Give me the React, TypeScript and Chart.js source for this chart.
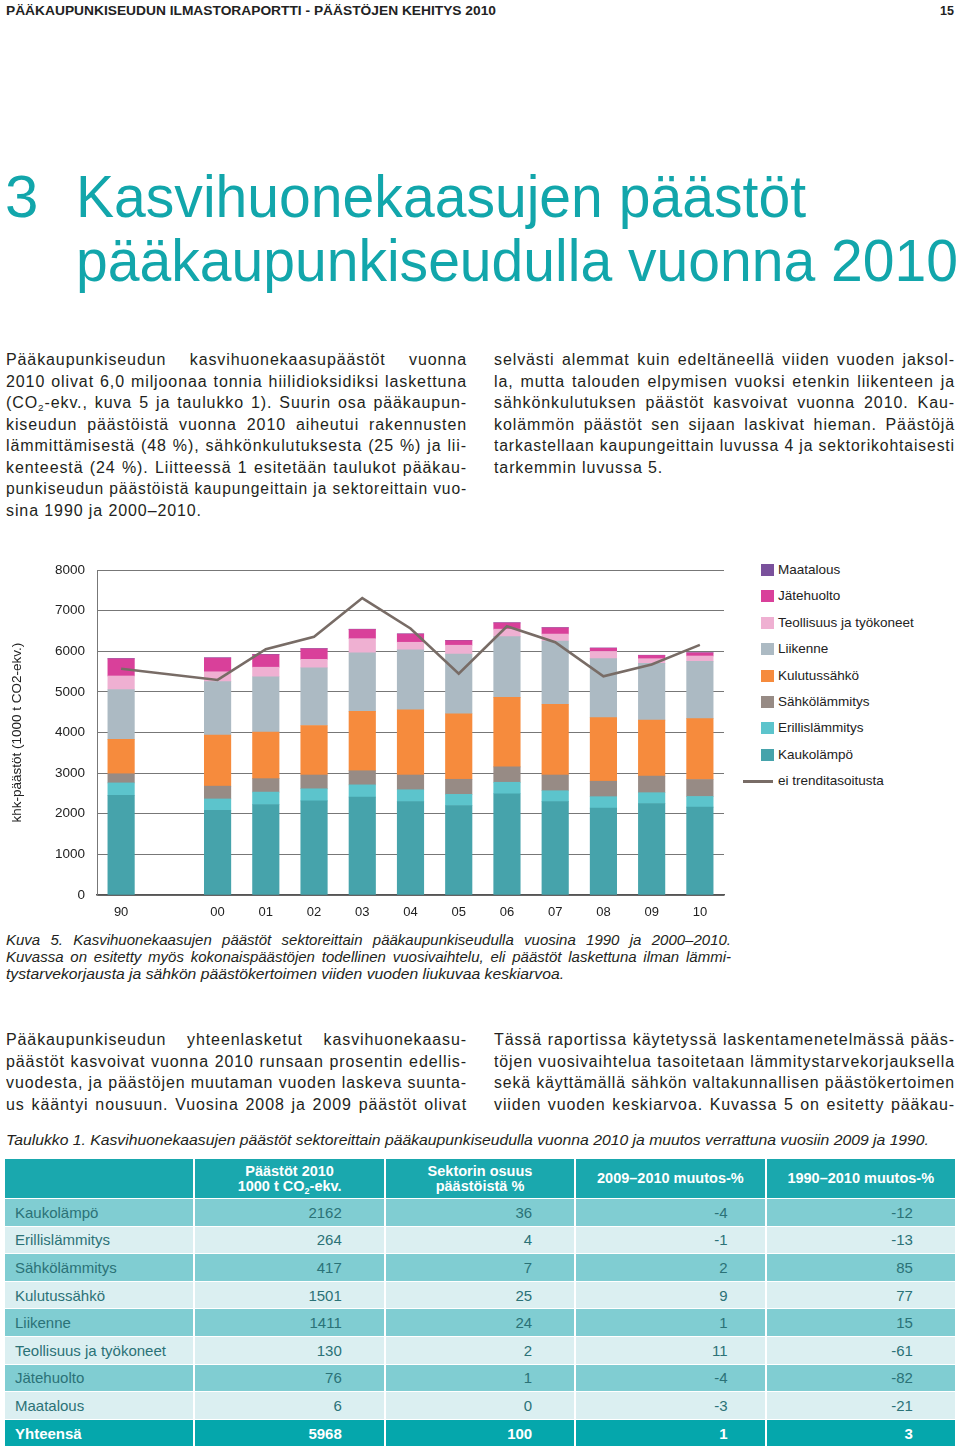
import React, { useEffect, useLayoutEffect, useRef, useState } from 'react';
import { Chart, registerables } from 'chart.js';

Chart.register(...registerables);

// ---------- chart data ----------
const categories = ['90', '', '00', '01', '02', '03', '04', '05', '06', '07', '08', '09', '10'];
const kaukolampo = [2457, null, 2082, 2228, 2316, 2413, 2300, 2203, 2494, 2300, 2139, 2252, 2162];
const erillislammitys = [303, null, 283, 306, 299, 299, 291, 275, 282, 267, 282, 267, 264];
const sahkolammitys = [225, null, 315, 331, 339, 347, 363, 371, 380, 387, 380, 409, 417];
const kulutussahko = [848, null, 1259, 1146, 1219, 1461, 1606, 1614, 1711, 1743, 1565, 1377, 1501];
const liikenne = [1227, null, 1315, 1364, 1420, 1444, 1477, 1469, 1493, 1558, 1453, 1397, 1411];
const teollisuus = [333, null, 242, 234, 210, 348, 186, 218, 186, 170, 178, 117, 130];
const jatehuolto = [422, null, 339, 307, 258, 226, 202, 113, 153, 153, 80, 79, 76];
const maatalous = [8, null, 8, 8, 8, 7, 7, 7, 7, 7, 6, 6, 6];
const eiTrenditasoitusta = [5569, null, 5295, 6053, 6360, 7312, 6562, 5448, 6618, 6223, 5383, 5674, 6158];

const seriesNames = ['Kaukolämpö', 'Erillislämmitys', 'Sähkölämmitys', 'Kulutussähkö', 'Liikenne', 'Teollisuus ja työkoneet', 'Jätehuolto', 'Maatalous'];
const seriesValues = [kaukolampo, erillislammitys, sahkolammitys, kulutussahko, liikenne, teollisuus, jatehuolto, maatalous];
const seriesColors = ['#46a3ab', '#5cc4cc', '#978b85', '#f68b3d', '#acbac3', '#efb0d2', '#d9409a', '#7a519c'];
const lineName = 'ei trenditasoitusta';
const lineColor = '#786c66';
const yAxisTitle = 'khk-päästöt (1000 t CO2-ekv.)';
const yMin = 0;
const yMax = 8000;
const yStep = 1000;

// ---------- table data ----------
const tableRowNames = ['Kaukolämpö', 'Erillislämmitys', 'Sähkölämmitys', 'Kulutussähkö', 'Liikenne', 'Teollisuus ja työkoneet', 'Jätehuolto', 'Maatalous'];
const tableEmissions2010 = [2162, 264, 417, 1501, 1411, 130, 76, 6];
const tableShare = [36, 4, 7, 25, 24, 2, 1, 0];
const tableChange0910 = [-4, -1, 2, 9, 1, 11, -4, -3];
const tableChange9010 = [-12, -13, 85, 77, 15, -61, -82, -21];
const tableTotal = ['Yhteensä', 5968, 100, 1, 3];

const FONT = "'Liberation Sans', Arial, Helvetica, sans-serif";
const TEAL = '#12a6ab';
const TEXT = '#231f20';

const Sub = () => (
  <span style={{ fontSize: '0.62em', verticalAlign: '-0.3em', lineHeight: 0 }}>2</span>
);

function Line({ children, w, justify = false, fit, style }: any) {
  const ref = useRef<HTMLSpanElement>(null);
  const [mode, setMode] = useState<any>(null);
  useLayoutEffect(() => {
    if (!ref.current) return;
    const nat = ref.current.getBoundingClientRect().width;
    if (fit) setMode({ just: false, scale: fit / nat });
    else if (justify && nat <= w) setMode({ just: true, scale: 1 });
    else if (nat > w) setMode({ just: false, scale: w / nat });
    else setMode({ just: false, scale: 1 });
  }, [w, justify, fit]);
  if (mode && mode.just) {
    return (
      <div style={{ ...style, width: w, textAlign: 'justify', textAlignLast: 'justify', whiteSpace: 'normal' }}>
        {children}
      </div>
    );
  }
  return (
    <div style={{ ...style, width: w, whiteSpace: 'nowrap' }}>
      <span
        ref={ref}
        style={{
          display: 'inline-block',
          transformOrigin: '0 50%',
          transform: mode ? `scaleX(${mode.scale})` : undefined,
        }}
      >
        {children}
      </span>
    </div>
  );
}

function Para({ lines, left, top, w, lh, font }: any) {
  return (
    <div style={{ position: 'absolute', left, top, width: w, ...font, lineHeight: lh + 'px' }}>
      {lines.map((l: any, i: number) => (
        <Line key={i} w={w} justify={!l.last} fit={l.fit} style={{ height: lh }}>
          {l.t}
        </Line>
      ))}
    </div>
  );
}

const paraFont = { fontFamily: FONT, fontSize: 16, letterSpacing: '0.9px', color: TEXT };

const para1Left = [
  { t: 'Pääkaupunkiseudun kasvihuonekaasupäästöt vuonna' },
  { t: '2010 olivat 6,0 miljoonaa tonnia hiilidioksidiksi laskettuna' },
  { t: <>(CO<Sub />-ekv., kuva 5 ja taulukko 1). Suurin osa pääkaupun-</> },
  { t: 'kiseudun päästöistä vuonna 2010 aiheutui rakennusten' },
  { t: 'lämmittämisestä (48\u00a0%), sähkönkulutuksesta (25\u00a0%) ja lii-' },
  { t: 'kenteestä (24\u00a0%). Liitteessä 1 esitetään taulukot pääkau-' },
  { t: 'punkiseudun päästöistä kaupungeittain ja sektoreittain vuo-' },
  { t: 'sina 1990 ja 2000–2010.', last: true },
];
const para1Right = [
  { t: 'selvästi alemmat kuin edeltäneellä viiden vuoden jaksol-' },
  { t: 'la, mutta talouden elpymisen vuoksi etenkin liikenteen ja' },
  { t: 'sähkönkulutuksen päästöt kasvoivat vuonna 2010. Kau-' },
  { t: 'kolämmön päästöt sen sijaan laskivat hieman. Päästöjä' },
  { t: 'tarkastellaan kaupungeittain luvussa 4 ja sektorikohtaisesti' },
  { t: 'tarkemmin luvussa 5.', last: true },
];
const para2Left = [
  { t: 'Pääkaupunkiseudun yhteenlasketut kasvihuonekaasu-' },
  { t: 'päästöt kasvoivat vuonna 2010 runsaan prosentin edellis-' },
  { t: 'vuodesta, ja päästöjen muutaman vuoden laskeva suunta-' },
  { t: 'us kääntyi nousuun. Vuosina 2008 ja 2009 päästöt olivat' },
];
const para2Right = [
  { t: 'Tässä raportissa käytetyssä laskentamenetelmässä pääs-' },
  { t: 'töjen vuosivaihtelua tasoitetaan lämmitystarvekorjauksella' },
  { t: 'sekä käyttämällä sähkön valtakunnallisen päästökertoimen' },
  { t: 'viiden vuoden keskiarvoa. Kuvassa 5 on esitetty pääkau-' },
];
const captionLines = [
  { t: 'Kuva 5. Kasvihuonekaasujen päästöt sektoreittain pääkaupunkiseudulla vuosina 1990 ja 2000–2010.' },
  { t: 'Kuvassa on esitetty myös kokonaispäästöjen todellinen vuosivaihtelu, eli päästöt laskettuna ilman lämmi-' },
  { t: 'tystarvekorjausta ja sähkön päästökertoimen viiden vuoden liukuvaa keskiarvoa.', last: true, fit: 558 },
];

function EmissionChart() {
  const ref = useRef<HTMLCanvasElement>(null);
  useEffect(() => {
    if (!ref.current) return;
    Chart.defaults.font.family = FONT;
    const chart = new Chart(ref.current, {
      type: 'bar',
      data: {
        labels: categories,
        datasets: [
          ...seriesValues.map((d, i) => ({
            type: 'bar' as const,
            label: seriesNames[i],
            data: d,
            backgroundColor: seriesColors[i],
            borderWidth: 0,
            barThickness: 26.5,
            stack: 'bars',
            order: 1,
          })),
          {
            type: 'line' as const,
            label: lineName,
            data: eiTrenditasoitusta,
            borderColor: lineColor,
            backgroundColor: lineColor,
            borderWidth: 2.6,
            pointRadius: 0,
            spanGaps: true,
            tension: 0,
            fill: false,
            stack: 'line',
            order: 0,
          },
        ],
      } as any,
      options: {
        animation: false,
        responsive: false,
        maintainAspectRatio: false,
        layout: { padding: { top: 14, right: 16, left: 0, bottom: 0 } },
        plugins: { legend: { display: false }, tooltip: { enabled: false } },
        scales: {
          x: {
            stacked: true,
            grid: { display: false, drawTicks: false },
            border: { display: true, color: '#555', width: 1.5 },
            ticks: { color: '#222', font: { size: 13 }, padding: 10, autoSkip: false, maxRotation: 0 },
            afterFit: (s: any) => { s.height = 30; },
          },
          y: {
            stacked: true,
            min: yMin,
            max: yMax,
            ticks: {
              stepSize: yStep,
              color: '#222',
              font: { size: 13.5 },
              padding: 12,
              callback: (v: any) => String(v),
            },
            grid: { color: '#777', lineWidth: 1, drawTicks: false },
            border: { display: true, color: '#777', width: 1 },
            title: { display: true, text: yAxisTitle, color: '#222', font: { size: 13.5 }, padding: { top: 9.5, bottom: 0 } },
            afterFit: (s: any) => { s.width = 97; },
          },
        },
      } as any,
    });
    return () => chart.destroy();
  }, []);
  return (
    <canvas
      ref={ref}
      width={740}
      height={375}
      style={{ position: 'absolute', left: 0, top: 550, width: 740, height: 375 }}
    />
  );
}

function Legend() {
  const items = seriesNames.map((n, i) => ({ n, c: seriesColors[i] })).reverse();
  return (
    <div style={{ position: 'absolute', left: 740, top: 557, width: 220, fontFamily: FONT, fontSize: 13.5, color: '#222' }}>
      {items.map((it, i) => (
        <div key={i} style={{ position: 'absolute', top: i * 26.4, left: 0, height: 26, width: 220 }}>
          <div style={{ position: 'absolute', left: 21, top: 7, width: 13, height: 12, background: it.c }} />
          <div style={{ position: 'absolute', left: 38, top: 5, lineHeight: '16px', whiteSpace: 'nowrap' }}>{it.n}</div>
        </div>
      ))}
      <div style={{ position: 'absolute', top: 8 * 26.4, left: 0, height: 26, width: 220 }}>
        <div style={{ position: 'absolute', left: 3, top: 12, width: 30, height: 2.6, background: lineColor }} />
        <div style={{ position: 'absolute', left: 38, top: 5, lineHeight: '16px', whiteSpace: 'nowrap' }}>{lineName}</div>
      </div>
    </div>
  );
}

function Table() {
  const colLeft = 5;
  const colW = 188.4;
  const gap = 2;
  const headerH = 39;
  const rowH = 26.6;
  const padR = [0, 42, 42, 37, 42];
  const mid = '#80cdd2';
  const light = '#dbeff1';
  const head = '#1aa8ae';
  const total = '#05a7ac';
  const bodyColor = '#2b7277';
  const cell = (content: any, ci: number, bg: string, opts: any = {}) => (
    <div
      key={ci}
      style={{
        background: bg,
        display: 'flex',
        alignItems: 'center',
        justifyContent: ci === 0 ? 'flex-start' : 'flex-end',
        paddingLeft: ci === 0 ? 10 : 0,
        paddingRight: ci === 0 ? 0 : padR[ci],
        boxSizing: 'border-box',
        ...opts,
      }}
    >
      <div>{content}</div>
    </div>
  );
  const headers = [
    '',
    <>Päästöt 2010<br />1000 t CO<Sub />-ekv.</>,
    <>Sektorin osuus<br />päästöistä %</>,
    '2009–2010 muutos-%',
    '1990–2010 muutos-%',
  ];
  return (
    <div
      style={{
        position: 'absolute',
        left: colLeft,
        top: 1159,
        width: colW * 5 + gap * 4,
        display: 'grid',
        gridTemplateColumns: `repeat(5, ${colW}px)`,
        gridTemplateRows: `${headerH}px repeat(9, ${rowH}px)`,
        columnGap: gap,
        rowGap: 1,
        fontFamily: FONT,
        fontSize: 15,
      }}
    >
      {headers.map((h, ci) => (
        <div
          key={'h' + ci}
          style={{
            background: head,
            color: '#fff',
            fontWeight: 'bold',
            fontSize: 14.5,
            lineHeight: '15px',
            display: 'flex',
            alignItems: 'center',
            justifyContent: 'center',
            textAlign: 'center',
          }}
        >
          <div>{h}</div>
        </div>
      ))}
      {tableRowNames.map((name, ri) => {
        const bg = ri % 2 === 0 ? mid : light;
        const vals = [name, tableEmissions2010[ri], tableShare[ri], tableChange0910[ri], tableChange9010[ri]];
        return vals.map((v, ci) => (
          <React.Fragment key={ri + '-' + ci}>{cell(v, ci, bg, { color: bodyColor })}</React.Fragment>
        ));
      })}
      {tableTotal.map((v, ci) => (
        <React.Fragment key={'t' + ci}>{cell(v, ci, total, { color: '#fff', fontWeight: 'bold' })}</React.Fragment>
      ))}
    </div>
  );
}

export default function App() {
  return (
    <div
      style={{
        position: 'absolute',
        left: 0,
        top: 0,
        width: 960,
        height: 1451,
        overflow: 'hidden',
        background: '#fff',
        fontFamily: FONT,
        color: TEXT,
      }}
    >
      {/* running header */}
      <div style={{ position: 'absolute', left: 6, top: 3, fontSize: 12.5, fontWeight: 'bold', lineHeight: '16px', color: '#222' }}>
        <Line w={489} fit={490}>PÄÄKAUPUNKISEUDUN ILMASTORAPORTTI - PÄÄSTÖJEN KEHITYS 2010</Line>
      </div>
      <div style={{ position: 'absolute', right: 6, top: 3, fontSize: 12.5, fontWeight: 'bold', lineHeight: '16px', color: '#222' }}>15</div>

      {/* title */}
      <div style={{ position: 'absolute', left: 5, top: 165, fontSize: 60, lineHeight: '64px', color: TEAL }}>3</div>
      <div style={{ position: 'absolute', left: 76, top: 165, fontSize: 60, lineHeight: '64px', color: TEAL }}>
        <Line w={730} fit={730} style={{ height: 64 }}>Kasvihuonekaasujen päästöt</Line>
        <Line w={882} fit={882} style={{ height: 64 }}>pääkaupunkiseudulla vuonna 2010</Line>
      </div>

      <Para lines={para1Left} left={6} top={349} w={461} lh={21.5} font={paraFont} />
      <Para lines={para1Right} left={494} top={349} w={461} lh={21.5} font={paraFont} />

      <EmissionChart />
      <Legend />

      <Para
        lines={captionLines}
        left={6}
        top={931}
        w={725}
        lh={17}
        font={{ fontFamily: FONT, fontSize: 15, fontStyle: 'italic', color: TEXT }}
      />

      <Para lines={para2Left} left={6} top={1029} w={461} lh={21.5} font={paraFont} />
      <Para lines={para2Right} left={494} top={1029} w={461} lh={21.5} font={paraFont} />

      <Para
        lines={[{ t: 'Taulukko 1. Kasvihuonekaasujen päästöt sektoreittain pääkaupunkiseudulla vuonna 2010 ja muutos verrattuna vuosiin 2009 ja 1990.', last: true, fit: 923 }]}
        left={6}
        top={1131}
        w={923}
        lh={17}
        font={{ fontFamily: FONT, fontSize: 15, fontStyle: 'italic', color: TEXT }}
      />

      <Table />
    </div>
  );
}
